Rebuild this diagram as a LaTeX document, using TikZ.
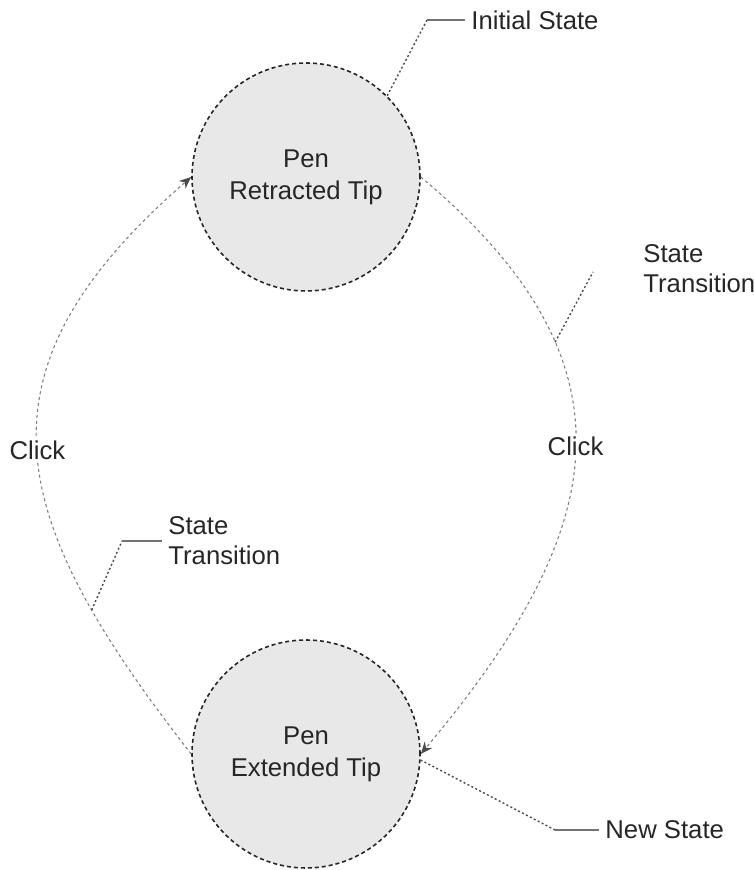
\documentclass[tikz,border=0pt]{standalone}
\usepackage{fontspec}
\setmainfont{Liberation Sans}
\usetikzlibrary{positioning,arrows.meta}
\begin{document}
\begin{tikzpicture}[
  x=0.5pt, y=0.5pt,
  state/.style={circle, draw=black!85, line width=0.8pt, dash pattern=on 2pt off 1.5pt, fill=black!9, minimum size=114pt, inner sep=0pt, align=center, text=black!85, font=\fontsize{12.85pt}{16pt}\selectfont},
  trans/.style={draw=black!50, line width=0.55pt, dash pattern=on 1.5pt off 1.5pt, -{Stealth[length=6pt,width=5pt,black!70]}},
  click/.style={fill=white, inner sep=1pt, text=black!85, font=\fontsize{12.85pt}{16pt}\selectfont},
  note/.style={anchor=west, align=left, inner sep=3pt, text=black!85, font=\fontsize{12.85pt}{15pt}\selectfont},
  leader/.style={draw=black!70, line width=0.7pt, dash pattern=on 1pt off 1.2pt},
  tick/.style={draw=black!55, line width=0.6pt},
  node distance=288.5pt
]
\useasboundingbox (0,0) rectangle (753,870);

\node[state] (ret) at (306,693) {Pen\\Retracted Tip};
\node[state, below of=ret] (ext) {Pen\\Extended Tip};

\draw[trans] (ret.east) to[out=-40, in=50, looseness=1.3]
  coordinate[pos=0.3] (rj) node[click, pos=0.49] {Click} (ext.east);
\draw[trans] (ext.west) to[out=128, in=221, looseness=1.33]
  coordinate[pos=0.22] (lj) node[click, pos=0.5] {Click} (ret.west);

% callouts
\node[note] (init) at (465,850) {Initial State};
\coordinate (initk) at (427,850);
\draw[leader] (ret.45) -- (initk);
\draw[tick] (initk) -- (init.west);

\node[note] (rst) at (637,601) {State\\Transition};
\coordinate (rstk) at (593,598);
\draw[leader] (rj) -- (rstk);

\node[note] (lst) at (162,329) {State\\Transition};
\coordinate (lstk) at (122,329);
\draw[leader] (lj) -- (lstk);
\draw[tick] (lstk) -- (lst.west);

\node[note] (new) at (599,40) {New State};
\coordinate (newk) at (555,40);
\draw[leader] (ext.-3) -- (newk);
\draw[tick] (newk) -- (new.west);
\end{tikzpicture}
\end{document}
